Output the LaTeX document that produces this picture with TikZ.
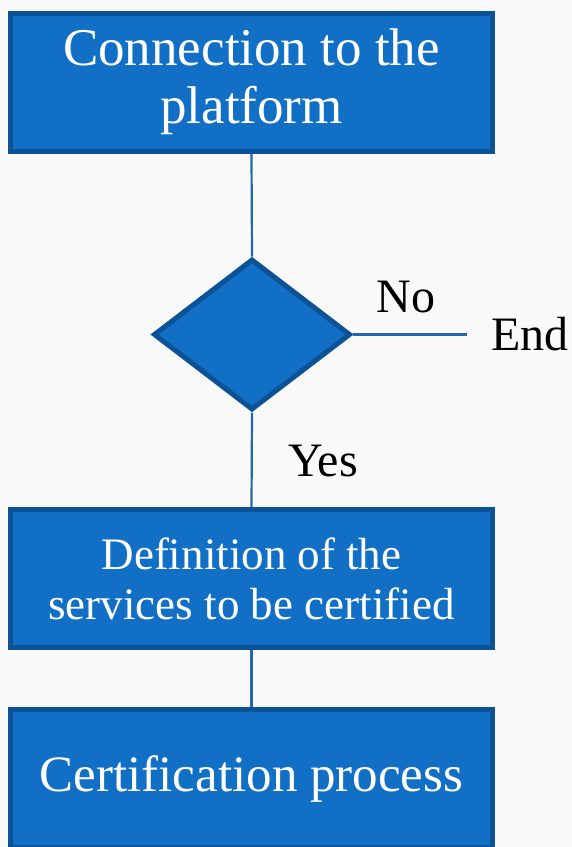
\documentclass[tikz,border=0pt]{standalone}
\usepackage{fontspec}
\setmainfont{Liberation Serif}
\usetikzlibrary{shapes.geometric}
\definecolor{boxfill}{RGB}{17,112,198}
\definecolor{boxedge}{RGB}{12,82,150}
\definecolor{linecol}{RGB}{36,104,172}
\definecolor{bgcol}{RGB}{249,249,249}
\tikzset{
  flowbox/.style={draw=boxedge, fill=boxfill, line width=5pt, minimum width=482pt,
    minimum height=138pt, inner sep=0pt, text=white, align=center},
  decision/.style={diamond, draw=boxedge, fill=boxfill, line width=5pt,
    minimum width=197pt, minimum height=151pt, inner sep=0pt},
  conn/.style={draw=linecol, line width=2.2pt},
  lbl/.style={font=\fontsize{48}{56}\selectfont, text=black, inner sep=0pt}
}
\begin{document}
\begin{tikzpicture}[x=1pt,y=-1pt]
\fill[bgcol] (0,0) rectangle (572,847);
\clip (0,0) rectangle (572,847);
\node[flowbox, font=\fontsize{53}{58}\selectfont] (b1) at (251.5,82) {Connection to the\\platform};
\node[decision] (d) at (252,334.5) {};
\node[flowbox, font=\fontsize{45}{50}\selectfont] (b2) at (251.5,578.5) {Definition of the\\services to be certified};
\node[flowbox, font=\fontsize{51}{58}\selectfont] (b3) at (251.5,778.5) {Certification process};
\coordinate (endpt) at (467,334.5);
\node[lbl, anchor=base] (no) at (406,312) {No};
\node[lbl, anchor=base west] (end) at (491,350) {End};
\node[lbl, anchor=base] (yes) at (323,476) {Yes};
\draw[conn] (b1.south) -- (d.north);
\draw[conn] (d.south) -- (b2.north);
\draw[conn] (b2.south) -- (b3.north);
\draw[conn] (d.east) -- (endpt);
\end{tikzpicture}
\end{document}
